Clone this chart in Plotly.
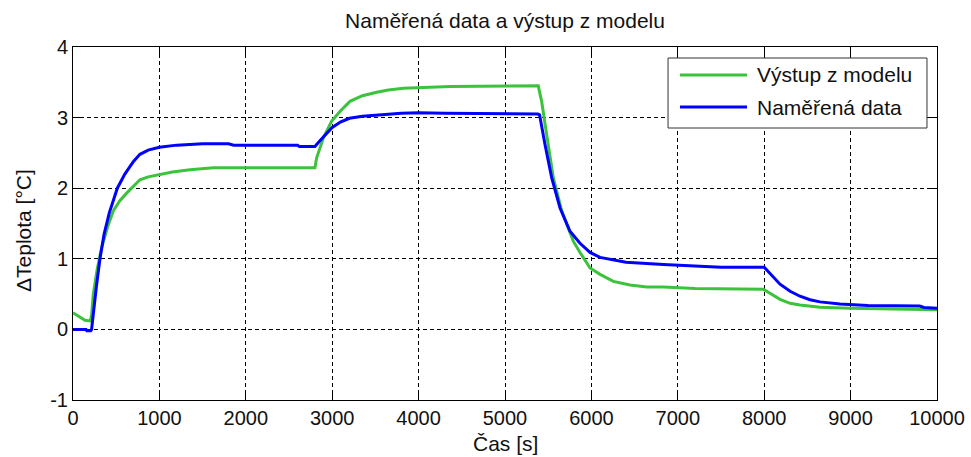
import plotly.graph_objects as go

# Measured temperature rise (blue) and model output (green), time in seconds
t_measured = [0, 150, 160, 205, 215, 240, 270, 312, 360, 420, 513, 600, 700, 775, 870,
              1000, 1200, 1500, 1800, 1860, 2600, 2620, 2800, 2850, 2920, 3000, 3100,
              3200, 3350, 3500, 3800, 4000, 4300, 5380, 5400, 5463, 5540, 5637, 5752,
              5868, 5984, 6100, 6254, 6400, 6833, 7500, 8000, 8060, 8183, 8300, 8414,
              8530, 8646, 8877, 9000, 9200, 9800, 9850, 10000]
y_measured = [0.0, 0.0, -0.02, -0.02, 0.0, 0.3, 0.6, 1.0, 1.35, 1.65, 2.0, 2.2, 2.38, 2.48,
              2.54, 2.58, 2.61, 2.63, 2.63, 2.61, 2.61, 2.59, 2.59, 2.66, 2.76, 2.86, 2.94,
              2.99, 3.02, 3.035, 3.06, 3.07, 3.06, 3.05, 3.04, 2.62, 2.15, 1.72, 1.39,
              1.22, 1.09, 1.02, 0.98, 0.95, 0.92, 0.88, 0.88, 0.80, 0.64, 0.54, 0.47,
              0.42, 0.39, 0.36, 0.355, 0.34, 0.33, 0.31, 0.30]

t_model = [0, 80, 139, 200, 215, 235, 280, 332, 400, 467, 540, 621, 700, 775, 870, 1000,
           1150, 1354, 1624, 2000, 2800, 2820, 2900, 2994, 3100, 3206, 3350, 3515, 3650,
           3823, 4100, 4363, 5385, 5424, 5482, 5559, 5656, 5790, 5868, 5984, 6100, 6254,
           6447, 6640, 6833, 7200, 7990, 8060, 8183, 8300, 8414, 8646, 8900, 9000, 10000]
y_model = [0.235, 0.17, 0.13, 0.12, 0.2, 0.5, 0.85, 1.16, 1.45, 1.68, 1.82, 1.93, 2.03,
           2.12, 2.16, 2.195, 2.23, 2.26, 2.29, 2.29, 2.29, 2.43, 2.72, 2.95, 3.1, 3.23,
           3.31, 3.36, 3.39, 3.415, 3.43, 3.44, 3.45, 3.23, 2.76, 2.15, 1.68, 1.25, 1.09,
           0.87, 0.78, 0.68, 0.63, 0.60, 0.60, 0.58, 0.57, 0.52, 0.425, 0.37, 0.345,
           0.315, 0.30, 0.30, 0.28]

x_ticks = [0, 1000, 2000, 3000, 4000, 5000, 6000, 7000, 8000, 9000, 10000]
x_tick_labels = ["0", "1000", "2000", "3000", "4000", "5000", "6000", "7000", "8000",
                 "9000", "10000"]
y_ticks = [-1, 0, 1, 2, 3, 4]
y_tick_labels = ["-1", "0", "1", "2", "3", "4"]

series_names = ["Výstup z modelu", "Naměřená data"]
series_colors = ["#3cc33c", "#0000ff"]

FONT = "Liberation Sans, Arial, sans-serif"
TEXT_COLOR = "#111"

fig = go.Figure()
fig.add_trace(go.Scatter(x=t_model, y=y_model, mode="lines", name=series_names[0],
                         line=dict(color=series_colors[0], width=3), showlegend=False))
fig.add_trace(go.Scatter(x=t_measured, y=y_measured, mode="lines", name=series_names[1],
                         line=dict(color=series_colors[1], width=3), showlegend=False))

axis_common = dict(
    showline=True, linecolor="black", linewidth=1, mirror="ticks",
    ticks="inside", ticklen=8, tickcolor="black", tickwidth=1,
    showgrid=True, gridcolor="black", gridwidth=1, griddash="4px,3px",
    zeroline=False, automargin=False,
    tickfont=dict(family=FONT, size=20, color=TEXT_COLOR),
)
fig.update_xaxes(range=[0, 10000], tickvals=x_ticks, ticktext=x_tick_labels, **axis_common)
fig.update_yaxes(range=[-1, 4], tickvals=y_ticks, ticktext=y_tick_labels, **axis_common)

# Legend drawn as a boxed key in the upper right corner
box = dict(x0=0.6887, x1=0.9884, y0=0.7705, y1=0.9688)
shapes = [dict(type="rect", xref="paper", yref="paper", **box,
               fillcolor="white", line=dict(color="#333", width=1), layer="above")]
annotations = []
rows_y = [0.9207, 0.830]
for name, color, ry in zip(series_names, series_colors, rows_y):
    shapes.append(dict(type="line", xref="paper", yref="paper", x0=0.7025, x1=0.7801,
                       y0=ry, y1=ry, line=dict(color=color, width=3), layer="above"))
    annotations.append(dict(xref="paper", yref="paper", x=0.7894, y=ry, text=name,
                            showarrow=False, xanchor="left", yanchor="middle",
                            font=dict(family=FONT, size=21, color=TEXT_COLOR)))

annotations.append(dict(xref="paper", yref="paper", x=0.5, y=-0.122, text="Čas [s]",
                        showarrow=False, xanchor="center", yanchor="middle",
                        font=dict(family=FONT, size=21, color=TEXT_COLOR)))
annotations.append(dict(xref="paper", yref="paper", x=-0.0567, y=0.4788,
                        text="ΔTeplota [°C]", textangle=-90, showarrow=False,
                        xanchor="center", yanchor="middle",
                        font=dict(family=FONT, size=21, color=TEXT_COLOR)))

fig.update_layout(
    width=971, height=457,
    margin=dict(l=73, r=34, t=47, b=57),
    paper_bgcolor="white", plot_bgcolor="white",
    title=dict(text="Naměřená data a výstup z modelu", x=0.5, xref="paper",
               y=1 - 21 / 457, yref="container", xanchor="center", yanchor="middle",
               font=dict(family=FONT, size=21, color=TEXT_COLOR)),
    shapes=shapes, annotations=annotations,
)

fig.write_html("out.html")
